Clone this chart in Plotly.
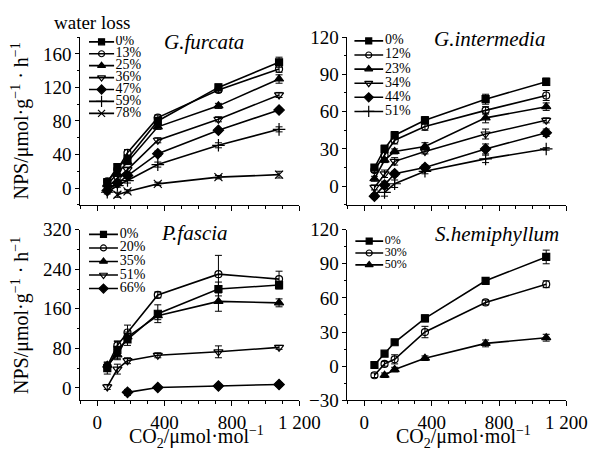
import plotly.graph_objects as go

# page viewport is 607x466; the html body adds an 8px margin, so the figure is
# sized to fit inside it and positions below are given in viewport pixels.
VW, VH, PAD = 607, 466, 8
W, H = VW - 2 * PAD, VH - 2 * PAD
FONT = "Liberation Serif"

co2 = [60, 120, 180, 360, 720, 1080]

# ---- G.furcata ----
gf_labels = ["0%", "13%", "25%", "36%", "47%", "59%", "78%"]
gf_0 = [7, 25, 35, 80, 120, 150]
gf_13 = [8, 22, 42, 84, 117, 142]
gf_25 = [4, 17, 31, 73, 98, 130]
gf_36 = [1, 12, 22, 57, 82, 111]
gf_47 = [-3, 6, 15, 41, 69, 93]
gf_59 = [-5, 3, 9, 28, 51, 70]
gf_78 = [None, -8, -4, 5, 13, 16]
gf_err = [[3, 3, 4, 4, 4, 6], [2, 3, 4, 3, 3, 4], [2, 3, 3, 3, 3, 5], [2, 2, 3, 3, 3, 3],
          [2, 2, 3, 3, 2, 2], [2, 2, 3, 3, 3, 3], [0, 3, 2, 2, 2, 4]]

# ---- G.intermedia ----
gi_labels = ["0%", "12%", "23%", "34%", "44%", "51%"]
gi_0 = [15, 30, 41, 53, 70, 84]
gi_12 = [13, 25, 37, 48, 61, 73]
gi_23 = [6, 21, 28, 32, 55, 64]
gi_34 = [-1, 10, 20, 28, 42, 53]
gi_44 = [-8, 1, 10, 15, 30, 43]
gi_51 = [None, -5, 2, 12, 22, 30]
gi_err = [[2, 3, 3, 3, 4, 3], [2, 3, 3, 3, 3, 4], [2, 2, 2, 3, 4, 3], [2, 3, 3, 2, 4, 2],
          [2, 3, 2, 2, 4, 3], [0, 3, 3, 2, 3, 1]]

# ---- P.fascia ----
pf_labels = ["0%", "20%", "35%", "51%", "66%"]
pf_0 = [40, 77, 98, 150, 200, 208]
pf_20 = [44, 86, 112, 188, 230, 220]
pf_35 = [46, 67, 103, 146, 175, 172]
pf_51 = [2, 38, 55, 66, 73, 82]
pf_66 = [None, None, -9, 1, 4, 7]
pf_err = [[12, 18, 12, 18, 14, 8], [4, 8, 15, 6, 38, 16], [6, 10, 10, 8, 20, 8],
          [5, 10, 6, 5, 12, 4], [0, 0, 6, 2, 3, 4]]

# ---- S.hemiphyllum ----
sh_labels = ["0%", "30%", "50%"]
sh_0 = [1, 11, 21, 42, 75, 96]
sh_30 = [-8, 2, 6, 30, 56, 72]
sh_50 = [None, -8, -3, 7, 20, 25]
sh_err = [[2, 2, 2, 3, 2, 6], [2, 2, 4, 5, 2, 3], [0, 2, 2, 2, 3, 3]]

symbols = ["square", "circle-open", "triangle-up", "triangle-down-open",
           "diamond", "cross-thin-open", "x-thin-open"]
sizes = [7, 7, 8, 8, 8, 9, 8]

panels = [
    dict(name="G.furcata", labels=gf_labels, series=[gf_0, gf_13, gf_25, gf_36, gf_47, gf_59, gf_78],
         err=gf_err, xd=(83, 310), yd=(28, 204), yr=(-20, 180), dt=40, mdt=20,
         title_xy=(211, 33), leg=dict(x0=92, x1=118, y0=33, dy=12.5, fs=14)),
    dict(name="G.intermedia", labels=gi_labels, series=[gi_0, gi_12, gi_23, gi_34, gi_44, gi_51],
         err=gi_err, xd=(360, 587), yd=(28, 204), yr=(-15, 120), dt=30, mdt=15,
         title_xy=(507, 30), leg=dict(x0=367, x1=397, y0=32, dy=14.8, fs=14)),
    dict(name="P.fascia", labels=pf_labels, series=[pf_0, pf_20, pf_35, pf_51, pf_66],
         err=pf_err, xd=(83, 310), yd=(230, 409), yr=(-25, 320), dt=80, mdt=40,
         title_xy=(201, 234), leg=dict(x0=92, x1=122, y0=235, dy=14.2, fs=14)),
    dict(name="S.hemiphyllum", labels=sh_labels, series=[sh_0, sh_30, sh_50],
         err=sh_err, xd=(360, 587), yd=(230, 409), yr=(-30, 120), dt=30, mdt=15,
         title_xy=(515, 235), leg=dict(x0=368, x1=397, y0=242, dy=12.5, fs=12)),
]

def fx(p):
    return (p - PAD) / W

def fy(p):
    return 1 - (p - PAD) / H

fig = go.Figure()
layout = dict(
    width=W, height=H, margin=dict(l=0, r=0, t=0, b=0),
    paper_bgcolor="white", plot_bgcolor="rgba(0,0,0,0)", showlegend=False,
    font=dict(family=FONT, color="black", size=19),
)
annotations = []

for i, p in enumerate(panels):
    k = i + 1
    xa = "x" if k == 1 else f"x{k}"
    ya = "y" if k == 1 else f"y{k}"
    for j, (lab, ys) in enumerate(zip(p["labels"], p["series"])):
        fig.add_trace(go.Scatter(
            x=co2, y=ys, xaxis=xa, yaxis=ya, mode="lines+markers", connectgaps=False,
            line=dict(color="black", width=1.6),
            marker=dict(symbol=symbols[j], size=sizes[j], color="black",
                        line=dict(color="black", width=1.2)),
            error_y=dict(type="data", array=p["err"][j], visible=True,
                         color="black", thickness=1, width=3.5),
            name=lab, cliponaxis=False,
        ))
    xkey = "xaxis" if k == 1 else f"xaxis{k}"
    ykey = "yaxis" if k == 1 else f"yaxis{k}"
    bottom = k >= 3
    layout[xkey] = dict(
        domain=[fx(p["xd"][0]), fx(p["xd"][1])], range=[-100, 1200], anchor=ya,
        showline=True, linecolor="black", linewidth=1, showgrid=False, zeroline=False,
        ticks="outside", ticklen=5, tickcolor="black", tickwidth=1,
        tickmode="array", tickvals=[0, 400, 800, 1200],
        ticktext=["0", "400", "800", "1 200"],
        showticklabels=bottom, tickfont=dict(family=FONT, size=19, color="black"),
        minor=dict(dtick=100, tick0=0, ticks="outside", ticklen=3, tickcolor="black", showgrid=False),
    )
    layout[ykey] = dict(
        domain=[fy(p["yd"][1]), fy(p["yd"][0])], range=list(p["yr"]), anchor=xa,
        showline=True, linecolor="black", linewidth=1, showgrid=False, zeroline=False,
        ticks="outside", ticklen=4, tickcolor="black", tickwidth=1,
        dtick=p["dt"], tick0=0, tickfont=dict(family=FONT, size=19, color="black"),
        minor=dict(dtick=p["mdt"], tick0=0, ticks="outside", ticklen=2, tickcolor="black", showgrid=False),
    )
    annotations.append(dict(
        text=f"<i>{p['name']}</i>", x=fx(p["title_xy"][0]), y=fy(p["title_xy"][1]),
        xref="paper", yref="paper", showarrow=False, xanchor="center", yanchor="middle",
        font=dict(family=FONT, size=21, color="black"),
    ))
    # legend drawn in hidden axes: line spans [0,1], text placed at 1.06 within range [0,3]
    lg = p["leg"]
    n = len(p["labels"])
    lk = k + 4
    lxa, lya = f"x{lk}", f"y{lk}"
    top = lg["y0"] - lg["dy"] / 2
    bot = lg["y0"] + (n - 1) * lg["dy"] + lg["dy"] / 2
    span = lg["x1"] - lg["x0"]
    layout[f"xaxis{lk}"] = dict(domain=[fx(lg["x0"]), fx(lg["x0"] + 3 * span)], range=[0, 3],
                                anchor=lya, visible=False, fixedrange=True)
    layout[f"yaxis{lk}"] = dict(domain=[fy(bot), fy(top)], range=[n - 0.5, -0.5],
                                anchor=lxa, visible=False, fixedrange=True)
    for j, lab in enumerate(p["labels"]):
        fig.add_trace(go.Scatter(x=[0, 1], y=[j, j], xaxis=lxa, yaxis=lya, mode="lines",
                                 line=dict(color="black", width=1.6), hoverinfo="skip"))
        fig.add_trace(go.Scatter(x=[0.5], y=[j], xaxis=lxa, yaxis=lya, mode="markers",
                                 marker=dict(symbol=symbols[j], size=sizes[j] - 1, color="black",
                                             line=dict(color="black", width=1.2)),
                                 hoverinfo="skip"))
        fig.add_trace(go.Scatter(x=[1.06], y=[j], xaxis=lxa, yaxis=lya, mode="text",
                                 text=[lab], textposition="middle right",
                                 textfont=dict(family=FONT, size=lg["fs"], color="black"),
                                 hoverinfo="skip"))

# axis titles and extra text
ytitle = "NPS/μmol·g<sup>−1</sup> · h<sup>−1</sup>"
for yc in (116, 320):
    annotations.append(dict(text=ytitle, x=fx(21), y=fy(yc), xref="paper", yref="paper",
                            showarrow=False, textangle=-90, xanchor="center", yanchor="middle",
                            font=dict(family=FONT, size=20, color="black")))
xtitle = "CO<sub>2</sub>/μmol·mol<sup>−1</sup>"
for xc in (203, 480):
    annotations.append(dict(text=xtitle, x=fx(xc), y=fy(447), xref="paper", yref="paper",
                            showarrow=False, xanchor="center", yanchor="middle",
                            font=dict(family=FONT, size=20, color="black")))
annotations.append(dict(text="water loss", x=fx(96), y=fy(13), xref="paper", yref="paper",
                        showarrow=False, xanchor="center", yanchor="middle",
                        font=dict(family=FONT, size=19, color="black")))

layout["annotations"] = annotations
fig.update_layout(**layout)
fig.write_html("out.html")
